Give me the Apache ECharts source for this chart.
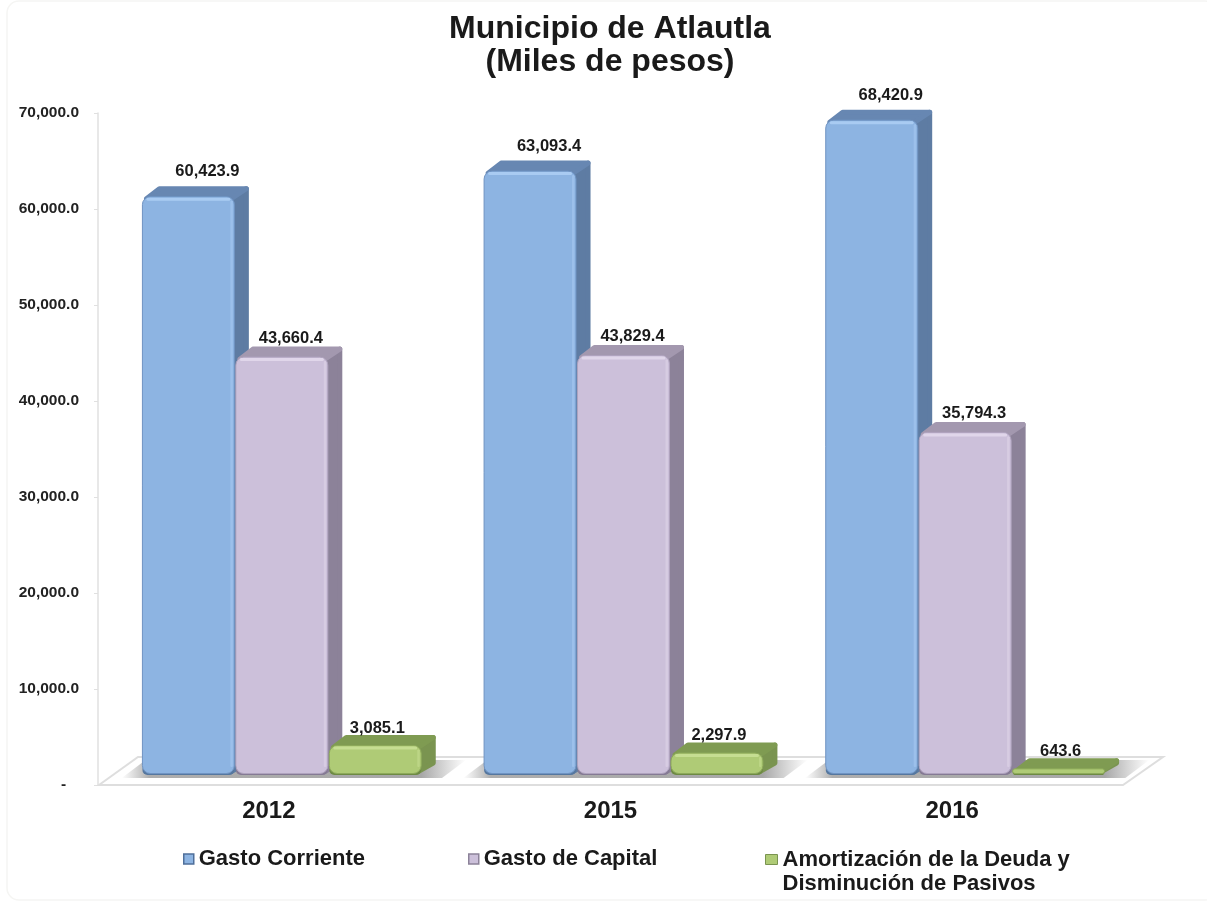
<!DOCTYPE html>
<html>
<head>
<meta charset="utf-8">
<style>html,body{margin:0;padding:0;background:#fff}#c{width:1207px;height:903px}</style>
<script src="https://cdn.jsdelivr.net/npm/echarts@6/dist/echarts.min.js"></script>
</head>
<body>
<div id="c"></div>
<script>
const categories = ['2012', '2015', '2016'];
const gastoCorriente = [60423.9, 63093.4, 68420.9];
const gastoCapital = [43660.4, 43829.4, 35794.3];
const amortizacion = [3085.1, 2297.9, 643.6];
const seriesNames = ['Gasto Corriente', 'Gasto de Capital', 'Amortización de la Deuda y\nDisminución de Pasivos'];
const yTicks = { min: 0, max: 70000, interval: 10000 };

const FONT = '"Liberation Sans", Arial, sans-serif';
const looks = [
  { front: '#8DB4E2', hi: '#A9CBF2', edge: '#6F93C2', low: '#55779F', side: '#5E7CA3', top: '#6787B2', lx: 19, ly: 14 },
  { front: '#CCC0DA', hi: '#E0D6EA', edge: '#AFA3BE', low: '#857A94', side: '#8C8299', top: '#A398AF', lx: 9, ly: 8 },
  { front: '#AFCB76', hi: '#C6DE92', edge: '#8DA95A', low: '#6E8A44', side: '#7A9450', top: '#7F9B52', lx: 2, ly: 6.5 }
];
const DX = 15, DY = 11, LIFT = 10, SHIFT = 13, SCALE = 0.997;

function fmt(v) {
  return v.toLocaleString('en-US', { minimumFractionDigits: 1, maximumFractionDigits: 1 });
}
function barItem(idx) {
  const L = looks[idx];
  return function (params, api) {
    const band = api.size([1, 0])[0];
    const pitch = band * 0.2735;
    const w = pitch - 1.5;
    const c = api.coord([api.value(0), 0]);
    const t = api.coord([api.value(0), api.value(1)]);
    const x = c[0] + SHIFT + (idx - 1) * pitch - w / 2;
    const base = c[1] - LIFT;
    const top = base + (t[1] - c[1]) * SCALE;
    const h = base - top;
    const r = Math.min(8, h / 2);
    const children = [
      { type: 'polygon', shape: { points: [[x + w - 4, base - 3], [x + w + DX - 3, base - DY - 1], [x + w + DX - 3, top - DY + 3], [x + w - 4, top + 3]] },
        style: { fill: L.side, stroke: L.side, lineWidth: 5, lineJoin: 'round' } },
      { type: 'polygon', shape: { points: [[x + 4, top + 2], [x + DX + 2, top - DY + 3], [x + w + DX - 3, top - DY + 3], [x + w - 3, top + 2]] },
        style: { fill: L.top, stroke: L.top, lineWidth: 5, lineJoin: 'round' } },
      { type: 'rect', shape: { x: x, y: base - 10 > top ? base - 10 : top, width: w, height: base - 10 > top ? 10 : h, r: r },
        style: { fill: L.low } },
      { type: 'rect', shape: { x: x, y: top, width: w, height: Math.max(h - 1.5, 1), r: r },
        style: { fill: L.front, stroke: L.edge, lineWidth: 1 } }
    ];
    if (h > 14) {
      children.push(
        { type: 'rect', shape: { x: x + 4, y: top + 1, width: w - 8, height: 3, r: 1.5 }, style: { fill: L.hi } },
        { type: 'rect', shape: { x: x + w - 4, y: top + 4, width: 2.5, height: h - 12, r: 1 }, style: { fill: L.hi, opacity: 0.55 } }
      );
    }
    children.push({ type: 'text', style: {
      x: x + w / 2 + L.lx, y: top - DY - L.ly,
      text: fmt(api.value(1)), align: 'center', verticalAlign: 'middle',
      font: 'bold 16.5px ' + FONT, fill: '#1a1a1a' } });
    return { type: 'group', children: children };
  };
}
function floorItem(params, api) {
  const s = params.coordSys;
  const y0 = s.y + s.height;
  return { type: 'polygon', shape: { points: [[s.x + 1, y0], [s.x + 40, y0 - 28], [s.x + s.width + 40, y0 - 28], [s.x + s.width, y0]] },
    style: { fill: '#fff', stroke: '#dedede', lineWidth: 2 } };
}
function shadowItem(params, api) {
  const band = api.size([1, 0])[0];
  const c = api.coord([api.value(0), 0]);
  const pitch = band * 0.2735;
  const left = c[0] + SHIFT - 1.5 * pitch - 20;
  const right = c[0] + SHIFT + 1.5 * pitch + 20;
  const y0 = c[1] - 7, y1 = c[1] - 25;
  return { type: 'polygon', shape: { points: [[left, y0], [left + 24, y1], [right + 24, y1], [right, y0]] },
    style: { fill: { type: 'linear', x: 0, y: 0, x2: 1, y2: 0, colorStops: [
      { offset: 0, color: 'rgba(130,130,130,0)' }, { offset: 0.08, color: 'rgba(120,120,120,0.6)' },
      { offset: 0.87, color: 'rgba(120,120,120,0.65)' }, { offset: 1, color: 'rgba(130,130,130,0)' }] } } };
}
const catIdx = categories.map((c, i) => i);
function pts(values) { return values.map((v, i) => [i, v]); }

const legendBase = {
  orient: 'horizontal', itemGap: 6,
  textStyle: { fontFamily: FONT, fontWeight: 'bold', fontSize: 22, color: '#1a1a1a', lineHeight: 24 }
};
const option = {
  animation: false,
  backgroundColor: '#ffffff',
  title: {
    text: 'Municipio de Atlautla\n(Miles de pesos)', left: 605, top: 8, textAlign: 'center',
    textStyle: { fontFamily: FONT, fontWeight: 'bold', fontSize: 32, color: '#1a1a1a', lineHeight: 33 }
  },
  graphic: [{ type: 'rect', z: -10, silent: true, shape: { x: 7, y: 1, width: 1210, height: 899, r: 12 }, style: { fill: 'none', stroke: '#f5f5f3', lineWidth: 1.5 } }],
  grid: { left: 98, top: 113, width: 1025, height: 672, containLabel: false },
  xAxis: { type: 'category', data: categories, axisLine: { show: false }, axisTick: { show: false },
    axisLabel: { margin: 14, fontFamily: FONT, fontWeight: 'bold', fontSize: 24, color: '#1a1a1a' } },
  yAxis: { type: 'value', min: yTicks.min, max: yTicks.max, interval: yTicks.interval, splitLine: { show: false },
    axisLine: { show: true, lineStyle: { color: '#e0e0e0', width: 1.5 } },
    axisTick: { show: true, length: 4, lineStyle: { color: '#e0e0e0' } },
    axisLabel: { margin: 19, fontFamily: FONT, fontWeight: 'bold', fontSize: 15.5, color: '#222',
      formatter: v => v === 0 ? '-   ' : fmt(v) } },
  legend: [
    Object.assign({}, legendBase, { data: [seriesNames[0]], left: 178, top: 842, itemWidth: 10, itemHeight: 10, icon: 'rect', itemStyle: { color: '#8DB4E2', borderColor: '#4F6F9A', borderWidth: 1.5 } }),
    Object.assign({}, legendBase, { data: [seriesNames[1]], left: 463, top: 842, itemWidth: 10, itemHeight: 10, icon: 'rect', itemStyle: { color: '#CCC0DA', borderColor: '#8C8299', borderWidth: 1.5 } }),
    Object.assign({}, legendBase, { data: [seriesNames[2]], left: 760, top: 842, itemWidth: 12, itemHeight: 48, icon: 'path://M0 7H12V17H0ZM0 0L0 0ZM0 48L0 48Z', itemStyle: { color: '#AFCB76', borderColor: '#7A9450', borderWidth: 1 } })
  ],
  series: [
    { type: 'custom', name: 'suelo', renderItem: floorItem, data: [[0, 0]], encode: { x: 0, y: 1 }, silent: true, z: 1 },
    { type: 'custom', name: 'sombra', renderItem: shadowItem, data: pts(catIdx.map(() => 0)), encode: { x: 0, y: 1 }, silent: true, z: 2 },
    { type: 'custom', name: seriesNames[0], renderItem: barItem(0), data: pts(gastoCorriente), encode: { x: 0, y: 1 }, itemStyle: { color: '#8DB4E2' }, z: 3 },
    { type: 'custom', name: seriesNames[1], renderItem: barItem(1), data: pts(gastoCapital), encode: { x: 0, y: 1 }, itemStyle: { color: '#CCC0DA' }, z: 4 },
    { type: 'custom', name: seriesNames[2], renderItem: barItem(2), data: pts(amortizacion), encode: { x: 0, y: 1 }, itemStyle: { color: '#AFCB76' }, z: 5 }
  ]
};
echarts.init(document.getElementById('c'), null, { renderer: 'canvas' }).setOption(option);
</script>
</body>
</html>
